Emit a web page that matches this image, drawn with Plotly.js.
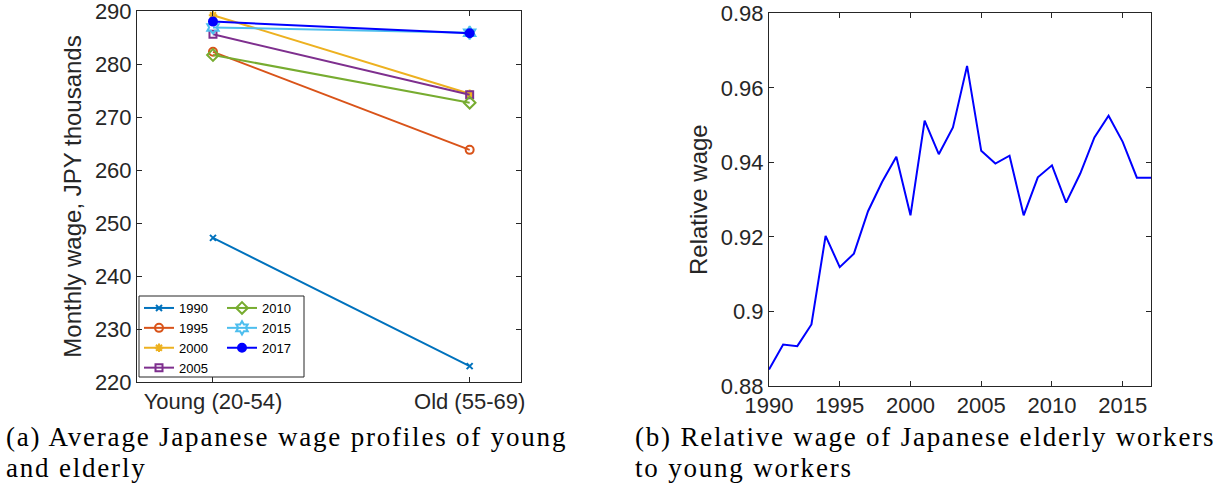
<!DOCTYPE html>
<html>
<head>
<meta charset="utf-8">
<script src="https://cdn.plot.ly/plotly-3.0.1.min.js"></script>
<style>
  html, body { margin: 0; padding: 0; background: #fff; }
  #chart { width: 1223px; height: 494px; }
  /* wider tracking for the serif captions */
  #chart .annotation-text { letter-spacing: 1.8px; }
</style>
</head>
<body>
<div id="chart"></div>
<script>
// Panel (a): average monthly wage, JPY thousands, by age group and survey year
const groups = ['Young (20-54)', 'Old (55-69)'];
const years = ['1990', '1995', '2000', '2005', '2010', '2015', '2017'];
const wage1990 = [247.2, 223.0];
const wage1995 = [282.3, 263.8];
const wage2000 = [289.2, 274.4];
const wage2005 = [285.6, 274.2];
const wage2010 = [281.7, 272.7];
const wage2015 = [286.9, 285.9];
const wage2017 = [288.0, 285.8];
const wageTicks = [220, 230, 240, 250, 260, 270, 280, 290];

// Panel (b): relative wage of elderly to young workers
const relYears = [1990, 1991, 1992, 1993, 1994, 1995, 1996, 1997, 1998, 1999,
                  2000, 2001, 2002, 2003, 2004, 2005, 2006, 2007, 2008, 2009,
                  2010, 2011, 2012, 2013, 2014, 2015, 2016, 2017];
const relWage = [0.8844, 0.8911, 0.8907, 0.8965, 0.9203, 0.9119, 0.9155, 0.9269, 0.9348, 0.9415,
                 0.9258, 0.9512, 0.9422, 0.9494, 0.9659, 0.9431, 0.9397, 0.9418, 0.9258, 0.9360,
                 0.9392, 0.9292, 0.9370, 0.9467, 0.9525, 0.9455, 0.9359, 0.9359];
const yearTicks = [1990, 1995, 2000, 2005, 2010, 2015];
const relTicks = [0.88, 0.90, 0.92, 0.94, 0.96, 0.98];
const relTickText = ['0.88', '0.9', '0.92', '0.94', '0.96', '0.98'];

// Captions, one entry per line
const captionA = ['(a) Average Japanese wage profiles of young', 'and elderly'];
const captionB = ['(b) Relative wage of Japanese elderly workers', 'to young workers'];

const axisColor = '#262626';
const sans = '"Liberation Sans", Arial, Helvetica, sans-serif';
const serif = '"Liberation Serif", "Times New Roman", serif';

const series = [
  {y: wage1990, color: '#0072BD', symbol: 'x-thin-open', size: 6, legend: 'legend'},
  {y: wage1995, color: '#D95319', symbol: 'circle-open', size: 8, legend: 'legend'},
  {y: wage2000, color: '#EDB120', symbol: 'asterisk-open', size: 7, legend: 'legend'},
  {y: wage2005, color: '#7E2F8E', symbol: 'square-open', size: 7, legend: 'legend'},
  {y: wage2010, color: '#77AC30', symbol: 'diamond-open', size: 9, legend: 'legend2'},
  {y: wage2015, color: '#4DBEEE', symbol: 'hexagram-open', size: 10, legend: 'legend2'},
  {y: wage2017, color: '#0000FF', symbol: 'circle', size: 8, legend: 'legend2'}
];

const traces = series.map((s, i) => ({
  type: 'scatter',
  mode: 'lines+markers',
  x: groups,
  y: s.y,
  name: years[i],
  legend: s.legend,
  xaxis: 'x',
  yaxis: 'y',
  line: {color: s.color, width: 2},
  marker: {symbol: s.symbol, size: s.size, color: s.color, line: {color: s.color, width: 2}}
}));

traces.push({
  type: 'scatter',
  mode: 'lines',
  x: relYears,
  y: relWage,
  xaxis: 'x2',
  yaxis: 'y2',
  showlegend: false,
  line: {color: '#0000FF', width: 2}
});

const frame = {
  showline: true,
  linecolor: axisColor,
  linewidth: 1,
  mirror: 'ticks',
  ticks: 'inside',
  ticklen: 5,
  tickcolor: axisColor,
  showgrid: false,
  zeroline: false,
  ticklabeloverflow: 'allow',
  tickfont: {family: sans, size: 22, color: axisColor}
};

// plot area spans x 137..1151 px, y 11..386 px
const L = 137, T = 11, W = 1014, H = 375;
const px = v => (v - L) / W;
const py = v => (T + H - v) / H;

const legendStyle = {
  xanchor: 'left', yanchor: 'top',
  bgcolor: 'rgba(0,0,0,0)', borderwidth: 0,
  font: {family: sans, size: 13, color: '#000'},
  tracegroupgap: 0
};

const captionFont = {family: serif, size: 27, color: '#000'};
const caption = (text, x, y) => ({
  xref: 'paper', yref: 'paper', x: px(x), y: py(y),
  xanchor: 'left', yanchor: 'middle', align: 'left', showarrow: false,
  text: text, font: captionFont
});

const layout = {
  width: 1223,
  height: 494,
  margin: {l: L, r: 1223 - L - W, t: T, b: 494 - T - H},
  paper_bgcolor: '#ffffff',
  plot_bgcolor: '#ffffff',
  font: {family: sans, color: axisColor},
  xaxis: Object.assign({}, frame, {
    domain: [0, px(521)],
    type: 'category',
    range: [-0.296, 1.2],
    anchor: 'y'
  }),
  yaxis: Object.assign({}, frame, {
    domain: [py(382), 1],
    range: [220, 290],
    tickmode: 'array',
    tickvals: wageTicks,
    ticktext: wageTicks.map(String),
    anchor: 'x',
    title: {text: 'Monthly wage, JPY thousands', font: {family: sans, size: 24, color: axisColor}, standoff: 6}
  }),
  xaxis2: Object.assign({}, frame, {
    domain: [px(769), 1],
    range: [1990, 2017],
    tickmode: 'array',
    tickvals: yearTicks,
    ticktext: yearTicks.map(String),
    anchor: 'y2'
  }),
  yaxis2: Object.assign({}, frame, {
    domain: [0, py(13.3)],
    range: [0.88, 0.98],
    tickmode: 'array',
    tickvals: relTicks,
    ticktext: relTickText,
    anchor: 'x2',
    title: {text: 'Relative wage', font: {family: sans, size: 24, color: axisColor}, standoff: 6}
  }),
  legend: Object.assign({x: px(139), y: py(293)}, legendStyle),
  legend2: Object.assign({x: px(222), y: py(293)}, legendStyle),
  shapes: [{
    type: 'rect', xref: 'paper', yref: 'paper',
    x0: px(139), x1: px(304), y0: py(377), y1: py(296),
    line: {color: axisColor, width: 1}, fillcolor: '#ffffff', layer: 'below'
  }],
  annotations: [
    caption(captionA[0], 4, 437),
    caption(captionA[1], 4, 468),
    caption(captionB[0], 633, 437),
    caption(captionB[1], 633, 468)
  ]
};

Plotly.newPlot('chart', traces, layout, {staticPlot: true, displayModeBar: false});
</script>
</body>
</html>
